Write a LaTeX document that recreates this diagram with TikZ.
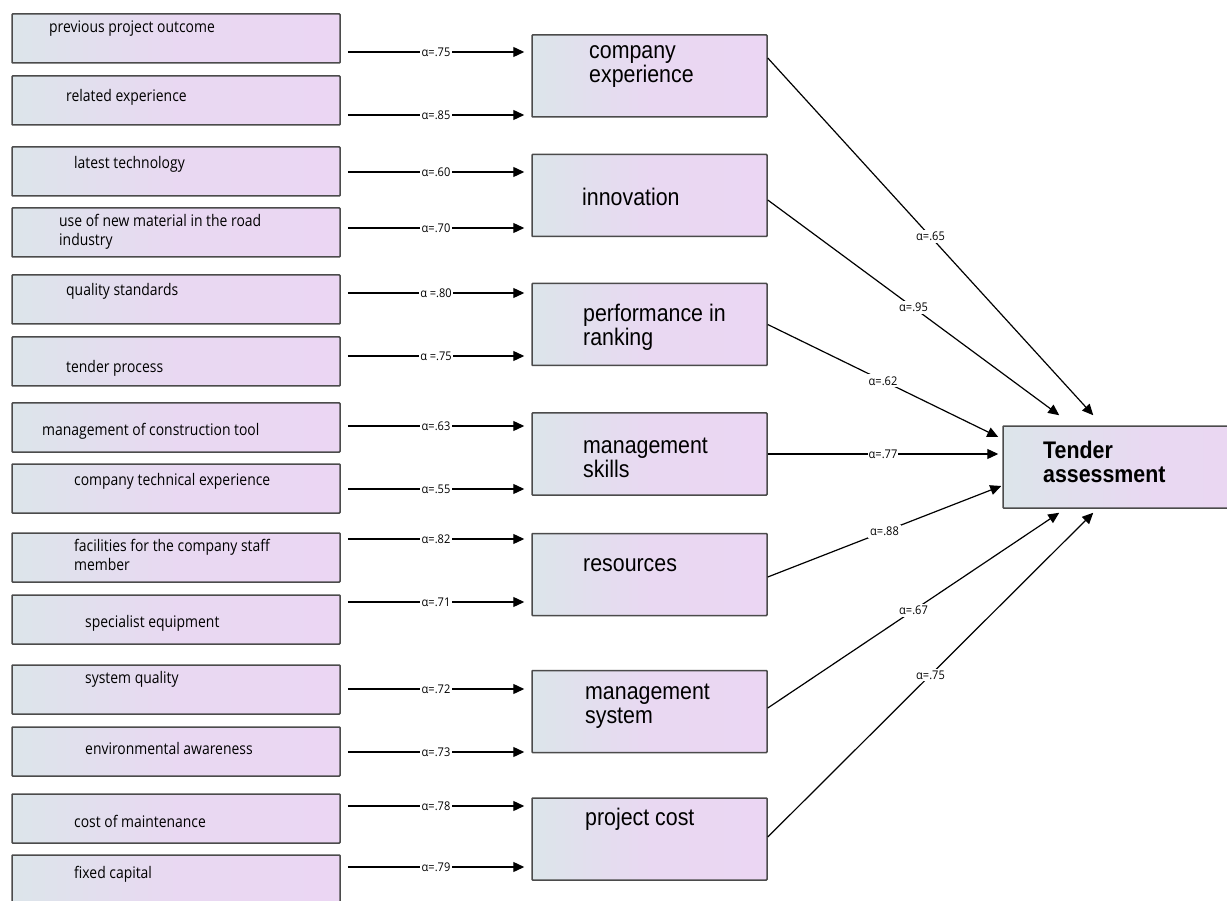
\documentclass[tikz,border=0pt]{standalone}
\usepackage{fontspec}
\usetikzlibrary{arrows.meta}

\newfontfamily\itemfont[FakeStretch=0.87]{Open Sans}
\newfontfamily\factorfont[FakeStretch=0.89]{Liberation Sans}
\newfontfamily\weightfont[FakeStretch=0.92]{Open Sans}

\definecolor{boxL}{RGB}{220,229,234}
\definecolor{boxR}{RGB}{235,214,243}
\definecolor{edge}{RGB}{75,75,75}

\tikzset{
  box/.style={rectangle, draw=edge, line width=1.5pt, rounded corners=0.8pt,
    left color=boxL, right color=boxR, middle color=boxR!85!boxL, inner sep=0pt},
  itembox/.style={box, minimum width=328pt, minimum height=49pt},
  factorbox/.style={box, minimum width=235pt, minimum height=82pt},
  itemtext/.style={anchor=west, align=left, inner sep=0pt,
    font=\itemfont\fontsize{16}{19}\selectfont},
  factortext/.style={anchor=west, align=left, inner sep=0pt,
    font=\factorfont\fontsize{24}{24}\selectfont},
  weight/.style={fill=white, inner xsep=1.5pt, inner ysep=1pt,
    font=\weightfont\fontsize{12}{12}\selectfont},
  feed/.style={line width=1.3pt, -{Triangle[length=11pt,width=10pt]}},
}

\begin{document}
\begin{tikzpicture}[x=1pt, y=-1pt]
  \useasboundingbox (0,0) rectangle (1227,901);

  % Observed items (left column)
  \node[itembox] (p1) at (176,38.5) {};
  \node[itembox] (p2) at (176,100.5) {};
  \node[itembox] (p3) at (176,171.5) {};
  \node[itembox] (p4) at (176,232.5) {};
  \node[itembox] (p5) at (176,299.5) {};
  \node[itembox] (p6) at (176,361.5) {};
  \node[itembox] (p7) at (176,427.5) {};
  \node[itembox] (p8) at (176,488.5) {};
  \node[itembox] (p9) at (176,557.5) {};
  \node[itembox] (p10) at (176,619.5) {};
  \node[itembox] (p11) at (176,689.5) {};
  \node[itembox] (p12) at (176,751.5) {};
  \node[itembox] (p13) at (176,818.5) {};
  \node[itembox] (p14) at (176,879.5) {};

  % Item texts
  \node[itemtext] (t1) at (49,29) {previous project outcome};
  \node[itemtext] (t2) at (66,97) {related experience};
  \node[itemtext] (t3) at (74,164) {latest technology};
  \node[itemtext] (t4) at (59,232) {use of new material in the road\\industry};
  \node[itemtext] (t5) at (66,291) {quality standards};
  \node[itemtext] (t6) at (66,368) {tender process};
  \node[itemtext] (t7) at (42,431) {management of construction tool};
  \node[itemtext] (t8) at (74,481) {company technical experience};
  \node[itemtext] (t9) at (74,555) {facilities for the company staff\\member};
  \node[itemtext] (t10) at (85,623) {specialist equipment};
  \node[itemtext] (t11) at (85,679) {system quality};
  \node[itemtext] (t12) at (85,748) {environmental awareness};
  \node[itemtext] (t13) at (74,821) {cost of maintenance};
  \node[itemtext] (t14) at (74,874) {fixed capital};

  % Factors (middle column)
  \node[factorbox] (CE) at (649.5,76) {};
  \node[factorbox] (IN) at (649.5,195.5) {};
  \node[factorbox] (PR) at (649.5,324.5) {};
  \node[factorbox] (MS) at (649.5,454) {};
  \node[factorbox] (RS) at (649.5,574.5) {};
  \node[factorbox] (MY) at (649.5,711.5) {};
  \node[factorbox] (PC) at (649.5,839) {};

  \node[factortext] (CEt) at (589,67) {company\\experience};
  \node[factortext] (INt) at (582,197) {innovation};
  \node[factortext] (PRt) at (583,327.5) {performance in\\ranking};
  \node[factortext] (MSt) at (583,457.5) {management\\skills};
  \node[factortext] (RSt) at (583,565) {resources};
  \node[factortext] (MYt) at (585,706.5) {management\\system};
  \node[factortext] (PCt) at (585,819) {project cost};

  % Outcome
  \node[factorbox, minimum width=300pt] (T) at (1153,467) {};
  \node[factortext, font=\factorfont\bfseries\fontsize{24}{24}\selectfont] (Tt) at (1043,462) {Tender\\assessment};

  % Items to factors
  \draw[feed] ([xshift=7pt]p1.east |- 0,52) -- ([xshift=-7pt]CE.west |- 0,52) node[weight,midway] {α=.75};
  \draw[feed] ([xshift=7pt]p2.east |- 0,115) -- ([xshift=-7pt]CE.west |- 0,115) node[weight,midway] {α=.85};
  \draw[feed] ([xshift=7pt]p3.east |- 0,172) -- ([xshift=-7pt]IN.west |- 0,172) node[weight,midway] {α=.60};
  \draw[feed] ([xshift=7pt]p4.east |- 0,228) -- ([xshift=-7pt]IN.west |- 0,228) node[weight,midway] {α=.70};
  \draw[feed] ([xshift=7pt]p5.east |- 0,293) -- ([xshift=-7pt]PR.west |- 0,293) node[weight,midway] {α =.80};
  \draw[feed] ([xshift=7pt]p6.east |- 0,356) -- ([xshift=-7pt]PR.west |- 0,356) node[weight,midway] {α =.75};
  \draw[feed] ([xshift=7pt]p7.east |- 0,426) -- ([xshift=-7pt]MS.west |- 0,426) node[weight,midway] {α=.63};
  \draw[feed] ([xshift=7pt]p8.east |- 0,489) -- ([xshift=-7pt]MS.west |- 0,489) node[weight,midway] {α=.55};
  \draw[feed] ([xshift=7pt]p9.east |- 0,539) -- ([xshift=-7pt]RS.west |- 0,539) node[weight,midway] {α=.82};
  \draw[feed] ([xshift=7pt]p10.east |- 0,602) -- ([xshift=-7pt]RS.west |- 0,602) node[weight,midway] {α=.71};
  \draw[feed] ([xshift=7pt]p11.east |- 0,689) -- ([xshift=-7pt]MY.west |- 0,689) node[weight,midway] {α=.72};
  \draw[feed] ([xshift=7pt]p12.east |- 0,752) -- ([xshift=-7pt]MY.west |- 0,752) node[weight,midway] {α=.73};
  \draw[feed] ([xshift=7pt]p13.east |- 0,806) -- ([xshift=-7pt]PC.west |- 0,806) node[weight,midway] {α=.78};
  \draw[feed] ([xshift=7pt]p14.east |- 0,867) -- ([xshift=-7pt]PC.west |- 0,867) node[weight,midway] {α=.79};

  % Factors to outcome
  \draw[feed, line width=1.2pt] ([yshift=18pt]CE.east) -- ([xshift=91pt,yshift=10pt]T.north west) node[weight,midway,inner sep=2pt] {α=.65};
  \draw[feed, line width=1.2pt] ([yshift=-4.5pt]IN.east) -- ([xshift=57pt,yshift=10pt]T.north west) node[weight,midway,inner sep=2pt] {α=.95};
  \draw[feed, line width=1.2pt] (PR.east) -- ([xshift=-4pt,yshift=30pt]T.west) node[weight,midway,inner sep=2pt] {α=.62};
  \draw[feed, line width=1.2pt] (MS.east) -- ([xshift=-4pt,yshift=13pt]T.west) node[weight,midway,inner sep=1pt] {α=.77};
  \draw[feed, line width=1.2pt] ([yshift=-2.5pt]RS.east) -- ([xshift=-1pt,yshift=-19pt]T.west) node[weight,midway,inner sep=2pt] {α=.88};
  \draw[feed, line width=1.2pt] ([yshift=3.5pt]MY.east) -- ([xshift=57pt,yshift=-4pt]T.south west) node[weight,midway,inner sep=2pt] {α=.67};
  \draw[feed, line width=1.2pt] ([yshift=2pt]PC.east) -- ([xshift=91pt,yshift=-4pt]T.south west) node[weight,midway,inner sep=2pt] {α=.75};
\end{tikzpicture}
\end{document}
